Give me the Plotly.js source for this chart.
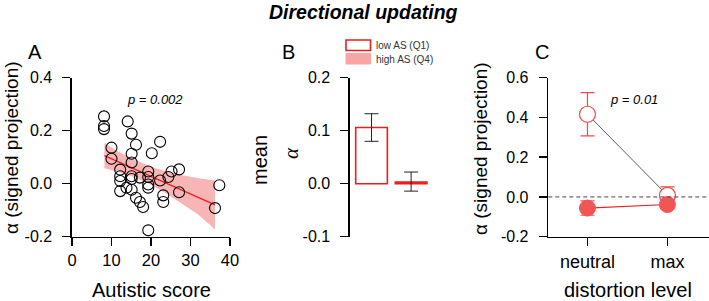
<!DOCTYPE html>
<html>
<head>
<meta charset="utf-8">
<script src="https://cdn.plot.ly/plotly-3.0.1.min.js"></script>
<style>
  html, body { margin: 0; padding: 0; background: #fff; }
  #chart { width: 709px; height: 301px; }
</style>
</head>
<body>
<div id="chart"></div>
<script>
// ---- Panel A: alpha vs autistic score ----
const scoreA = [8.1, 8.1, 8.1, 10.0, 10.0, 14.1, 15.1, 16.2, 15.1, 15.1,
                12.2, 12.2, 12.2, 12.2, 13.8, 15.1, 15.1, 15.1, 16.2, 17.2,
                17.2, 18.0, 19.3, 19.3, 19.3, 19.3, 19.3, 20.2, 22.3, 22.3,
                23.1, 23.1, 24.4, 25.2, 27.1, 27.1, 36.2, 37.3];
const alphaA = [0.254, 0.218, 0.206, 0.136, 0.094, 0.235, 0.189, 0.147, 0.113, 0.080,
                0.053, 0.028, 0.010, -0.028, -0.015, 0.028, 0.018, -0.023, -0.053, 0.023,
                -0.069, -0.088, 0.046, 0.025, -0.003, -0.015, -0.176, 0.115, 0.158, 0.012,
                -0.044, -0.069, 0.025, 0.046, 0.054, -0.032, -0.092, -0.006];
const fitX = [8.2, 36.2];
const fitY = [0.106, -0.080];
const bandX = [8.2, 12, 16, 20, 24, 28, 32, 36.2];
const bandUpper = [0.154, 0.119, 0.089, 0.064, 0.046, 0.032, 0.021, 0.012];
const bandLower = [0.058, 0.043, 0.023, -0.004, -0.038, -0.076, -0.117, -0.172];

// ---- Panel B: mean alpha per group ----
const groupNames = ['low AS (Q1)', 'high AS (Q4)'];
const groupMean = [0.106, 0.003];
const groupErrPlus = [0.026, 0.019];
const groupErrMinus = [0.026, 0.017];

// ---- Panel C: alpha by distortion level ----
const levels = ['neutral', 'max'];
const openAlpha = [0.416, 0.008];
const openErr = [0.109, 0.043];
const filledAlpha = [-0.056, -0.038];
const filledErr = [0.036, 0.022];

// ---- tick labels ----
const tickA_y = [-0.2, 0, 0.2, 0.4];
const tickA_yText = ['-0.2', '0.0', '0.2', '0.4'];
const tickA_x = [0, 10, 20, 30, 40];
const tickB_y = [-0.1, 0, 0.1, 0.2];
const tickB_yText = ['-0.1', '0.0', '0.1', '0.2'];
const tickC_y = [-0.2, 0, 0.2, 0.4, 0.6];
const tickC_yText = ['-0.2', '0.0', '0.2', '0.4', '0.6'];

const W = 709, H = 301;
const px = v => v / W;          // pixel -> paper x
const py = v => 1 - v / H;      // pixel -> paper y

const RED = '#ee1c1c';
const PINK = 'rgba(240, 90, 90, 0.45)';
const FONT = 'Arial, "Liberation Sans", sans-serif';

const traces = [
  // confidence band (lower edge, then upper edge filled to it)
  { x: bandX, y: bandLower, xaxis: 'x', yaxis: 'y', mode: 'lines',
    line: { width: 0, color: PINK }, hoverinfo: 'skip' },
  { x: bandX, y: bandUpper, xaxis: 'x', yaxis: 'y', mode: 'lines',
    line: { width: 0, color: PINK }, fill: 'tonexty', fillcolor: PINK, hoverinfo: 'skip' },
  // regression line
  { x: fitX, y: fitY, xaxis: 'x', yaxis: 'y', mode: 'lines',
    line: { color: RED, width: 1.2 } },
  // participants
  { x: scoreA, y: alphaA, xaxis: 'x', yaxis: 'y', mode: 'markers',
    marker: { symbol: 'circle-open', size: 11, color: '#000', line: { width: 1.1 } } },

  // group bars
  { x: [0], y: [groupMean[0]], name: groupNames[0], type: 'bar', xaxis: 'x2', yaxis: 'y2',
    width: 0.8, marker: { color: '#fff', line: { color: RED, width: 1.6 } },
    error_y: { type: 'data', array: [groupErrPlus[0]], arrayminus: [groupErrMinus[0]],
               color: '#222', thickness: 1, width: 7 } },
  { x: [1], y: [groupMean[1]], name: groupNames[1], type: 'bar', xaxis: 'x2', yaxis: 'y2',
    width: 0.8, marker: { color: '#f59a9a', line: { color: RED, width: 1.6 } },
    error_y: { type: 'data', array: [groupErrPlus[1]], arrayminus: [groupErrMinus[1]],
               color: '#222', thickness: 1, width: 7 } },

  // distortion level: open condition
  { x: [0, 1], y: openAlpha, xaxis: 'x3', yaxis: 'y3', mode: 'lines',
    line: { color: '#333', width: 0.8 }, hoverinfo: 'skip' },
  { x: [0, 1], y: openAlpha, xaxis: 'x3', yaxis: 'y3', mode: 'markers',
    marker: { size: 16, color: '#fff', line: { color: '#f04848', width: 1.2 } },
    error_y: { type: 'data', array: openErr, color: '#f04848', thickness: 1.2, width: 7 } },
  // distortion level: filled condition
  { x: [0, 1], y: filledAlpha, xaxis: 'x3', yaxis: 'y3', mode: 'lines+markers',
    line: { color: RED, width: 1.1 },
    marker: { size: 16, color: '#f05656', line: { color: '#f05656', width: 1 } },
    error_y: { type: 'data', array: filledErr, color: '#f05656', thickness: 1.2, width: 7 } }
];

const yDom = [py(236.7), py(77.7)];
const axisCommon = {
  showline: true, linecolor: '#000', linewidth: 1.6,
  ticks: 'outside', ticklen: 8, tickwidth: 1.5, tickcolor: '#000',
  showgrid: false, zeroline: false,
  tickfont: { family: FONT, size: 16, color: '#000' },
  fixedrange: true
};

// text placed at a pixel position, centred on it unless told otherwise
function label(text, x, y, size, extra) {
  return Object.assign({ text: text, xref: 'paper', yref: 'paper', x: px(x), y: py(y),
    xanchor: 'center', yanchor: 'middle', showarrow: false,
    font: { size: size, family: FONT, color: '#000' } }, extra || {});
}

const layout = {
  width: W, height: H,
  margin: { l: 0, r: 0, t: 0, b: 0 },
  paper_bgcolor: '#fff', plot_bgcolor: 'rgba(0,0,0,0)',
  showlegend: false,
  font: { family: FONT, color: '#000' },
  xaxis: Object.assign({}, axisCommon, { domain: [px(72), px(230)], range: [0, 40],
    tickvals: tickA_x, anchor: 'y', tickfont: { family: FONT, size: 16.5, color: '#000' } }),
  yaxis: Object.assign({}, axisCommon, { domain: yDom, range: [-0.2, 0.4],
    tickvals: tickA_y, ticktext: tickA_yText, anchor: 'x', ticklabelstandoff: 7 }),
  xaxis2: { domain: [px(350), px(440)], range: [-0.544, 1.73], visible: false, anchor: 'y2', fixedrange: true },
  yaxis2: Object.assign({}, axisCommon, { domain: yDom, range: [-0.1, 0.2],
    tickvals: tickB_y, ticktext: tickB_yText, anchor: 'x2', ticklabelstandoff: 7 }),
  xaxis3: Object.assign({}, axisCommon, { domain: [px(548.3), 1], range: [-0.49, 1.52],
    tickvals: [0, 1], ticktext: levels, anchor: 'y3', tickfont: { family: FONT, size: 18, color: '#000' } }),
  yaxis3: Object.assign({}, axisCommon, { domain: yDom, range: [-0.2, 0.6],
    tickvals: tickC_y, ticktext: tickC_yText, anchor: 'x3', ticklabelstandoff: 7 }),
  shapes: [
    // zero reference in panel C
    { type: 'line', xref: 'x3 domain', yref: 'y3', x0: 0, x1: 1, y0: 0, y1: 0,
      line: { color: '#444', width: 1, dash: '4px,3px' } },
    // legend swatches for panel B
    { type: 'rect', xref: 'paper', yref: 'paper', x0: px(346), x1: px(370.5), y0: py(50.5), y1: py(40),
      line: { color: RED, width: 1.6 }, fillcolor: '#fff' },
    { type: 'rect', xref: 'paper', yref: 'paper', x0: px(346), x1: px(370.5), y0: py(64), y1: py(53.5),
      line: { color: '#f7a5a5', width: 1 }, fillcolor: '#f7a5a5' }
  ],
  annotations: [
    label('<b><i>Directional updating</i></b>', 363, 12, 19.5),
    label('A', 35, 52, 20),
    label('B', 288, 52, 20),
    label('C', 542, 52, 20),
    label('α (signed projection)', 11, 148, 19, { textangle: -90 }),
    label('α (signed projection)', 480, 148, 19, { textangle: -90 }),
    label('mean', 260, 160, 20, { textangle: -90 }),
    label('<i>α</i>', 291, 153, 21, { textangle: -90,
      font: { size: 21, family: '"Liberation Serif", "DejaVu Serif", serif', color: '#000' } }),
    label('Autistic score', 151, 290, 20),
    label('distortion level', 628, 290, 20),
    label('<i>p = 0.002</i>', 155, 99, 13),
    label('<i>p = 0.01</i>', 634, 99, 13),
    label(groupNames[0], 374, 45.5, 10, { xanchor: 'left',
      font: { size: 10, family: FONT, color: '#333' } }),
    label(groupNames[1], 374, 59, 10, { xanchor: 'left',
      font: { size: 10, family: FONT, color: '#333' } })
  ]
};

Plotly.newPlot('chart', traces, layout, { displayModeBar: false, staticPlot: true });
</script>
</body>
</html>
